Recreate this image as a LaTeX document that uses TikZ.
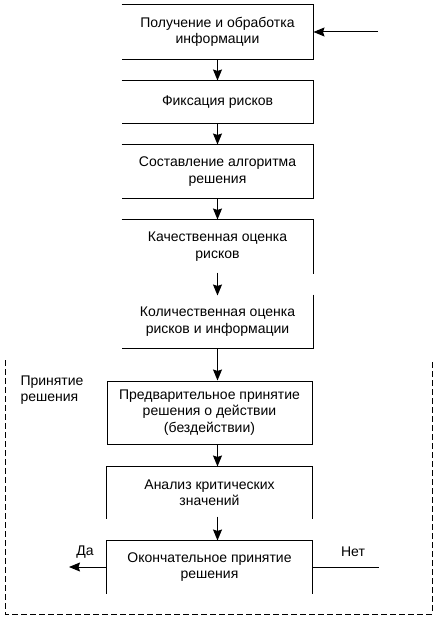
\documentclass[tikz,border=0pt]{standalone}
\usepackage{fontspec}
\setmainfont{Liberation Sans}
\usetikzlibrary{arrows.meta}

\tikzset{
  box/.style={minimum width=191pt, inner sep=0pt, align=center},
  wbox/.style={minimum width=205pt, inner sep=0pt, align=center},
  arr/.style={-{Stealth[length=11pt,width=9pt,inset=1.5pt]}},
  frame/.style={dash pattern=on 6pt off 3pt},
}

\begin{document}
\begin{tikzpicture}[x=1pt, y=-1pt, line width=1pt,
    font=\fontsize{14}{16.5}\selectfont]
  \useasboundingbox (0,0) rectangle (439,620);

  % upper chain
  \node[box, minimum height=54pt] (b1) at (217.5,32) {Получение и обработка\\информации};
  \node[box, minimum height=42pt] (b2) at (217.5,102) {Фиксация рисков};
  \node[box, minimum height=53pt] (b3) at (217.5,171.5) {Составление алгоритма\\решения};
  \node[box, minimum height=53pt] (b4) at (217.5,246.5) {Качественная оценка\\рисков};
  \node[box, minimum height=53pt] (b5) at (217.5,321.5) {Количественная оценка\\рисков и информации};

  \foreach \b in {b1,b2,b3}
    \draw (\b.north west) -- (\b.north east) -- (\b.south east) -- (\b.south west);
  \draw (b4.north west) -- (b4.north east) -- (b4.south east);
  \draw (b5.north east) -- (b5.south east) -- (b5.south west);

  \coordinate (in) at (378,32);
  \draw[arr] (in) -- (b1.east);

  \draw[arr] (b1.south) -- (b2.north);
  \draw[arr] (b2.south) -- (b3.north);
  \draw[arr] (b3.south) -- (b4.north);
  \draw[arr] ([yshift=1pt]b4.south) -- ([yshift=-1pt]b5.north);

  % decision block
  \draw[frame] (5,360) -- (5,614) -- (432,614) -- (432,360);
  \node[align=left, inner sep=0pt, anchor=west] (lbl) at (20,390) {Принятие\\решения};

  \node[wbox, draw, minimum height=63pt] (b6) at (209.5,412.5) {Предварительное принятие\\решения о действии\\(бездействии)};
  \node[wbox, minimum height=51pt] (b7) at (209.5,492.5) {Анализ критических\\значений};
  \node[wbox, minimum height=52pt] (b8) at (209.5,567) {Окончательное принятие\\решения};

  \foreach \b in {b7,b8}
    \draw (\b.south west) -- (\b.north west) -- (\b.north east) -- (\b.south east);

  \draw[arr] (b5.south) -- (b5.south |- b6.north);
  \draw[arr] (b6.south -| b5.south) -- (b5.south |- b7.north);
  \draw[arr] ([yshift=2pt]b7.south -| b5.south) -- (b5.south |- b8.north);

  \coordinate (yes) at (69,567);
  \coordinate (no) at (379,567);
  \draw[arr] (b8.west) -- (yes);
  \draw (b8.east) -- (no);
  \node (da) at (85,552) {Да};
  \node (net) at (353,552) {Нет};
\end{tikzpicture}
\end{document}
